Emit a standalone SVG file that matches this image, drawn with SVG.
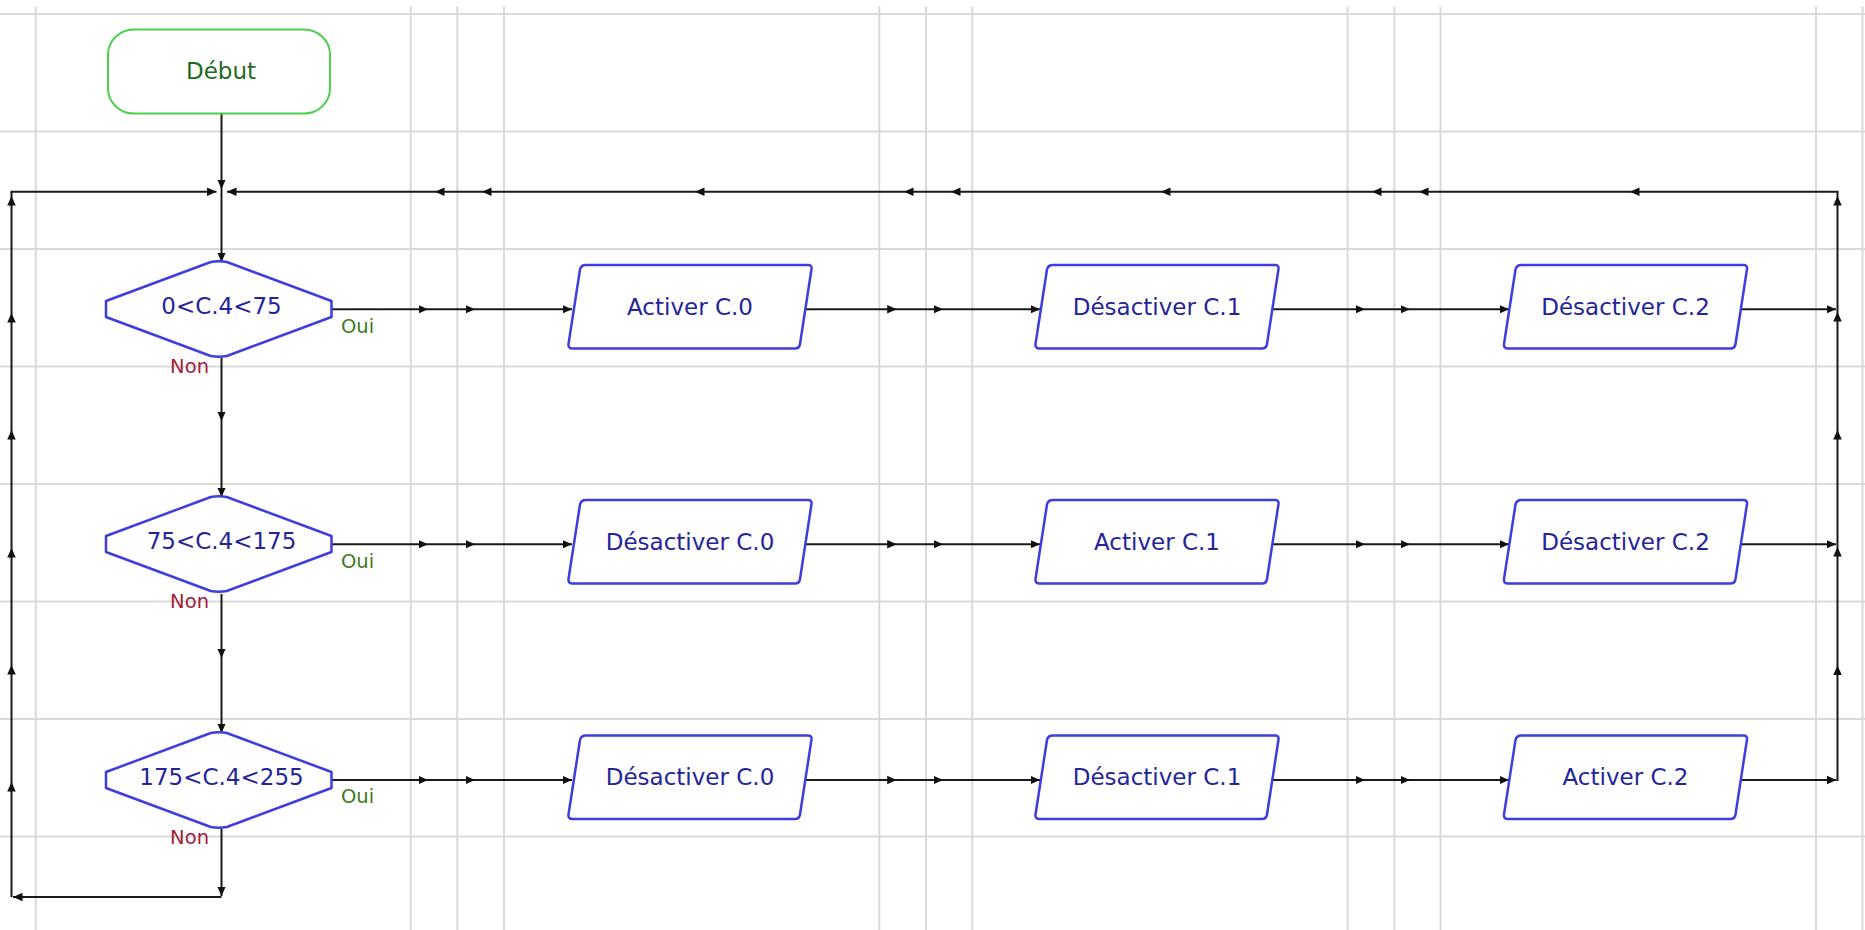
<svg xmlns="http://www.w3.org/2000/svg" width="1865" height="930" viewBox="0 0 1865 930">
  <defs>
    <style>
      .grid line { stroke: #d9d9d9; stroke-width: 2; }
      .wire { fill: none; stroke: #1a1a1a; stroke-width: 2; }
      .mid { marker-mid: url(#arrow); }
      .end { marker-end: url(#arrow); }
      .start-node { fill: #ffffff; stroke: #4ccf4c; stroke-width: 2; }
      .decision { fill: #ffffff; stroke: #3d3de0; stroke-width: 2.5; stroke-linejoin: round; }
      .process { fill: #ffffff; stroke: #3d3de0; stroke-width: 2.5; stroke-linejoin: round; }
      .label { font-family: "DejaVu Sans", Verdana, sans-serif; font-size: 23px; text-anchor: middle; fill: #25259a; }
      .start-label { font-family: "DejaVu Sans", Verdana, sans-serif; font-size: 23px; text-anchor: middle; fill: #236b23; }
      .yes { font-family: "DejaVu Sans", Verdana, sans-serif; font-size: 19.5px; fill: #3e7a22; }
      .no { font-family: "DejaVu Sans", Verdana, sans-serif; font-size: 19.5px; fill: #a01e3e; text-anchor: end; }
    </style>
    <marker id="arrow" viewBox="0 0 10 10" refX="10" refY="5" markerWidth="9.5" markerHeight="10" markerUnits="userSpaceOnUse" orient="auto">
      <path d="M0,0.5 L10,5 L0,9.5 Z" fill="#111111"/>
    </marker>
    <!-- decision hexagon, centred on (0,0) -->
    <path id="decision-shape" d="M-8,-47 Q0,-48.5 8,-47 L112.7,-8 V8 L8,47 Q0,48.5 -8,47 L-112.8,8 V-8 Z"/>
    <!-- slanted action box, local bbox 0..244 x 0..83.5 -->
    <path id="process-shape" d="M18,0 H240 Q244,0 243.5,4 L232,79 Q231.3,83.5 227,83.5 H4.5 Q0,83.5 0.5,79 L12,4.5 Q13,0 18,0 Z"/>
  </defs>

  <rect width="1865" height="930" fill="#ffffff"/>

  <!-- background grid -->
  <g class="grid">
    <line x1="0" y1="14" x2="1865" y2="14"/>
    <line x1="0" y1="131.5" x2="1865" y2="131.5"/>
    <line x1="0" y1="249" x2="1865" y2="249"/>
    <line x1="0" y1="366.5" x2="1865" y2="366.5"/>
    <line x1="0" y1="484" x2="1865" y2="484"/>
    <line x1="0" y1="601.5" x2="1865" y2="601.5"/>
    <line x1="0" y1="719" x2="1865" y2="719"/>
    <line x1="0" y1="836.5" x2="1865" y2="836.5"/>
    <line x1="35.7" y1="6.5" x2="35.7" y2="930"/>
    <line x1="410.7" y1="6.5" x2="410.7" y2="930"/>
    <line x1="457.3" y1="6.5" x2="457.3" y2="930"/>
    <line x1="504" y1="6.5" x2="504" y2="930"/>
    <line x1="879.3" y1="6.5" x2="879.3" y2="930"/>
    <line x1="926" y1="6.5" x2="926" y2="930"/>
    <line x1="972.3" y1="6.5" x2="972.3" y2="930"/>
    <line x1="1347.6" y1="6.5" x2="1347.6" y2="930"/>
    <line x1="1394.4" y1="6.5" x2="1394.4" y2="930"/>
    <line x1="1440.5" y1="6.5" x2="1440.5" y2="930"/>
    <line x1="1816" y1="6.5" x2="1816" y2="930"/>
    <line x1="1862.5" y1="6.5" x2="1862.5" y2="930"/>
  </g>

  <!-- connectors -->
  <g id="connectors">
    <!-- main column -->
    <polyline class="wire mid end" points="221.5,113.5 221.5,189 221.5,262"/>
    <polyline class="wire mid end" points="221.5,358 221.5,421 221.5,497"/>
    <polyline class="wire mid end" points="221.5,594 221.5,658 221.5,733"/>
    <polyline class="wire end" points="221.5,829 221.5,896"/>
    <!-- left return path -->
    <polyline class="wire end" points="221.5,897 13,897"/>
    <polyline class="wire mid" points="11.5,897 11.5,782 11.5,665 11.5,548 11.5,430 11.5,313 11.5,196 11.5,191.7"/>
    <polyline class="wire end" points="10.5,191.7 216.5,191.7"/>
    <!-- right return path -->
    <polyline class="wire mid" points="1837.5,781 1837.5,665.5 1837.5,547 1837.5,430 1837.5,312 1837.5,196 1837.5,191.7"/>
    <polyline class="wire mid end" points="1838.5,191.7 1630,191.7 1419,191.7 1372,191.7 1161,191.7 951,191.7 904,191.7 695,191.7 482,191.7 435,191.7 227,191.7"/>
    <!-- row 1 -->
    <polyline class="wire mid end" points="331.7,309.3 428,309.3 475,309.3 572,309.3"/>
    <polyline class="wire mid end" points="805,309.3 896.7,309.3 943,309.3 1040,309.3"/>
    <polyline class="wire mid end" points="1272.5,309.3 1365,309.3 1410,309.3 1509,309.3"/>
    <polyline class="wire end" points="1741,309.3 1836,309.3"/>
    <!-- row 2 -->
    <polyline class="wire mid end" points="331.7,544.3 428,544.3 475,544.3 572,544.3"/>
    <polyline class="wire mid end" points="805,544.3 896.7,544.3 943,544.3 1040,544.3"/>
    <polyline class="wire mid end" points="1272.5,544.3 1365,544.3 1410,544.3 1509,544.3"/>
    <polyline class="wire end" points="1741,544.3 1836,544.3"/>
    <!-- row 3 -->
    <polyline class="wire mid end" points="331.7,780 428,780 475,780 572,780"/>
    <polyline class="wire mid end" points="805,780 896.7,780 943,780 1040,780"/>
    <polyline class="wire mid end" points="1272.5,780 1365,780 1410,780 1509,780"/>
    <polyline class="wire end" points="1741,780 1836.5,780"/>
  </g>

  <!-- start -->
  <g id="debut">
    <rect class="start-node" x="108" y="29.5" width="222" height="84" rx="26" ry="25"/>
    <text class="start-label" x="221" y="79">Début</text>
  </g>

  <!-- decisions -->
  <g id="test1">
    <use href="#decision-shape" class="decision" transform="translate(218.8,309)"/>
    <text class="label" x="221.5" y="313.5">0&lt;C.4&lt;75</text>
    <text class="yes" x="341" y="332.7">Oui</text>
    <text class="no" x="209" y="372.7">Non</text>
  </g>
  <g id="test2">
    <use href="#decision-shape" class="decision" transform="translate(218.8,544)"/>
    <text class="label" x="221.5" y="549">75&lt;C.4&lt;175</text>
    <text class="yes" x="341" y="567.5">Oui</text>
    <text class="no" x="209" y="608">Non</text>
  </g>
  <g id="test3">
    <use href="#decision-shape" class="decision" transform="translate(218.8,780)"/>
    <text class="label" x="221.5" y="784.5">175&lt;C.4&lt;255</text>
    <text class="yes" x="341" y="803">Oui</text>
    <text class="no" x="209" y="843.5">Non</text>
  </g>

  <!-- row 1 actions -->
  <g id="r1-c0">
    <use href="#process-shape" class="process" transform="translate(568,265)"/>
    <text class="label" x="690" y="315">Activer C.0</text>
  </g>
  <g id="r1-c1">
    <use href="#process-shape" class="process" transform="translate(1035,265)"/>
    <text class="label" x="1157" y="315">Désactiver C.1</text>
  </g>
  <g id="r1-c2">
    <use href="#process-shape" class="process" transform="translate(1503.5,265)"/>
    <text class="label" x="1625.5" y="315">Désactiver C.2</text>
  </g>

  <!-- row 2 actions -->
  <g id="r2-c0">
    <use href="#process-shape" class="process" transform="translate(568,500)"/>
    <text class="label" x="690" y="550">Désactiver C.0</text>
  </g>
  <g id="r2-c1">
    <use href="#process-shape" class="process" transform="translate(1035,500)"/>
    <text class="label" x="1157" y="550">Activer C.1</text>
  </g>
  <g id="r2-c2">
    <use href="#process-shape" class="process" transform="translate(1503.5,500)"/>
    <text class="label" x="1625.5" y="550">Désactiver C.2</text>
  </g>

  <!-- row 3 actions -->
  <g id="r3-c0">
    <use href="#process-shape" class="process" transform="translate(568,735.5)"/>
    <text class="label" x="690" y="785">Désactiver C.0</text>
  </g>
  <g id="r3-c1">
    <use href="#process-shape" class="process" transform="translate(1035,735.5)"/>
    <text class="label" x="1157" y="785">Désactiver C.1</text>
  </g>
  <g id="r3-c2">
    <use href="#process-shape" class="process" transform="translate(1503.5,735.5)"/>
    <text class="label" x="1625.5" y="785">Activer C.2</text>
  </g>
</svg>
